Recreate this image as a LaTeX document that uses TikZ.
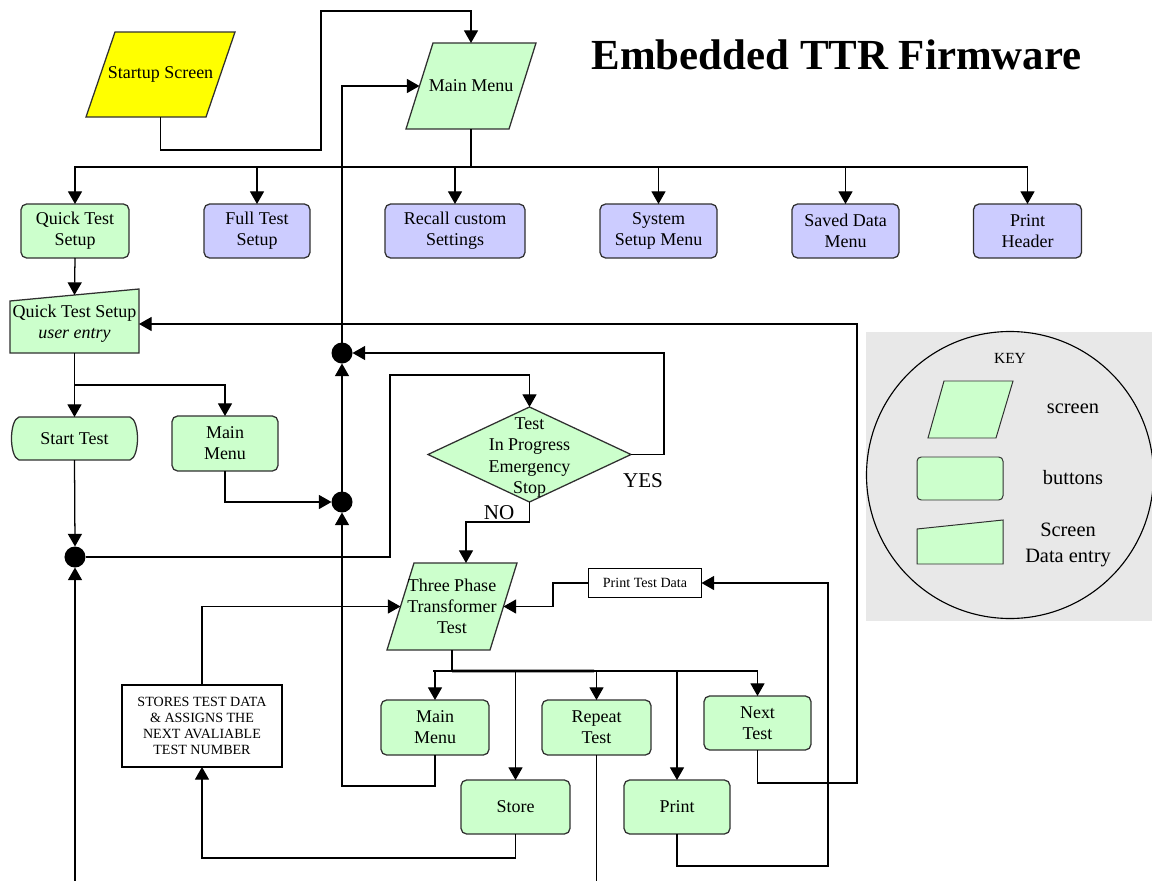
\documentclass[tikz,border=0pt]{standalone}
\usepackage{fontspec}
\setmainfont{Liberation Serif}
\usetikzlibrary{arrows.meta,calc,backgrounds}

\definecolor{btngreen}{HTML}{CCFFCC}
\definecolor{btnblue}{HTML}{CCCCFF}
\definecolor{startyellow}{HTML}{FFFF00}
\definecolor{keygray}{HTML}{E8E8E8}
\definecolor{edge}{HTML}{303030}

\tikzset{
  sz/.style 2 args={minimum width={#1*0.025cm},minimum height={#2*0.025cm}},
  lbl/.style={font=\fontsize{12.8}{15}\selectfont, align=center, inner sep=0pt, outer sep=0pt},
  button/.style={lbl, draw=edge, line width=0.9pt, rounded corners=4pt},
  gbtn/.style={button, fill=btngreen},
  bbtn/.style={button, fill=btnblue},
  outline/.style={draw=edge, line width=0.9pt},
  wire/.style={line width=0.9pt},
  arr/.style={wire, -{Triangle[width=10pt,length=9pt]}},
  junction/.style={circle, fill=black, inner sep=0pt, outer sep=0pt, minimum size=0.525cm},
  notebox/.style={draw=black, fill=white, line width=0.8pt, align=center, inner sep=0pt, outer sep=0pt},
  answer/.style={font=\fontsize{15}{17}\selectfont, inner sep=0pt},
  keytext/.style={font=\fontsize{14.5}{18.5}\selectfont, align=center, inner sep=0pt},
}

% parallelogram (screen) behind a text node: #1 node, #2 half slant (px), #3 fill
\newcommand\slantbox[3]{%
  \draw[outline, fill=#3] ($(#1.north west)+(#2,0)$) -- ($(#1.north east)+(#2,0)$)
    -- ($(#1.south east)+(-#2,0)$) -- ($(#1.south west)+(-#2,0)$) -- cycle;}

\begin{document}
\begin{tikzpicture}[x=0.025cm, y=-0.025cm]
\useasboundingbox (0,0) rectangle (1152,881);

% ---------- title ----------
\node[font=\fontsize{30.5}{36}\selectfont\bfseries, inner sep=0pt] (title) at (836.5,55) {Embedded TTR Firmware};

% ---------- screens ----------
\node[lbl, sz={120}{85}] (startup) at (160.5,74.5) {\raisebox{-2pt}{Startup Screen}};
\node[lbl, sz={103}{86}] (mm) at (471,86) {Main Menu};
\node[lbl, sz={103}{87}] (tp) at (452,606.5) {Three Phase\\Transformer\\Test};

% ---------- top row buttons ----------
\node[gbtn, sz={108}{54}] (qts) at (75,231) {Quick Test\\Setup};
\node[bbtn, sz={106}{54}] (fts) at (257,231) {Full Test\\Setup};
\node[bbtn, sz={140}{54}] (rcs) at (455,231) {Recall custom\\Settings};
\node[bbtn, sz={117}{54}] (ssm) at (658.5,231) {System\\Setup Menu};
\node[bbtn, sz={107}{54}] (sdm) at (845.5,231) {Saved Data\\Menu};
\node[bbtn, sz={108}{54}] (ph) at (1027.5,231) {Print\\Header};

% ---------- quick test ----------
\node[lbl, sz={129}{58}] (qtsue) at (74.5,324) {Quick Test Setup\\\textit{user entry}};
\node[lbl, sz={129}{43}] (st) at (74.5,438.5) {Start Test};
\node[gbtn, sz={106}{55}] (mml) at (225,443.5) {Main\\Menu};

% ---------- junctions ----------
\node[junction] (dotU) at (342,353) {};
\node[junction] (dotL) at (342,502) {};
\node[junction] (dotS) at (75,557) {};

% ---------- decision ----------
\node[lbl, sz={203}{95}] (dia) at (529.5,454.5) {};
\node[lbl, font=\fontsize{12.8}{15.3}\selectfont] (diatext) at (529.5,457.5)
  {Test\\In Progress\\Emergency\\Stop};
\node[answer] (yes) at (643,481) {YES};
\node[answer] (no) at (499,513) {NO};

% ---------- test screen buttons ----------
\node[gbtn, sz={108}{55}] (mmb) at (435,727.5) {Main\\Menu};
\node[gbtn, sz={109}{55}] (rt) at (596.5,727.5) {Repeat\\Test};
\node[gbtn, sz={107}{54}] (nt) at (757.5,723) {Next\\Test};
\node[gbtn, sz={109}{54}] (store) at (515.5,807) {Store};
\node[gbtn, sz={106}{54}] (print) at (677,807) {Print};

\node[notebox, sz={113}{29}, font=\fontsize{10}{12}\selectfont] (ptd) at (645,583) {Print Test Data};
\node[notebox, sz={160}{82}, font=\fontsize{10}{11.4}\selectfont] (sto) at (202,726)
  {STORES TEST DATA\\\& ASSIGNS THE\\NEXT AVALIABLE\\TEST NUMBER};

% ---------- shape outlines ----------
\begin{scope}[on background layer]
  \slantbox{startup}{14.5}{startyellow}
  \slantbox{mm}{13.5}{btngreen}
  \slantbox{tp}{13.5}{btngreen}
  % data entry screen
  \draw[outline, fill=btngreen] ($(qtsue.north west)+(0,6)$) -- ($(qtsue.north east)+(0,-6)$)
    -- (qtsue.south east) -- (qtsue.south west) -- cycle;
  % start terminator
  \draw[outline, fill=btngreen] ($(st.north west)+(9,0)$) -- ($(st.north east)+(-9,0)$)
    .. controls ($(st.north east)+(1,3)$) and ($(st.south east)+(1,-3)$) .. ($(st.south east)+(-9,0)$)
    -- ($(st.south west)+(9,0)$)
    .. controls ($(st.south west)+(-1,-3)$) and ($(st.north west)+(-1,3)$) .. cycle;
  % decision diamond
  \draw[outline, fill=btngreen] (dia.north) -- (dia.east) -- (dia.south) -- (dia.west) -- cycle;
\end{scope}

% ---------- connectors ----------
\draw[arr] (startup.south) -- (160.5,150) -- (321,150) -- (321,11) -| (mm.north);
\draw[wire] (mm.south) -- (471,167) coordinate (bus);
\draw[wire] (75,167) -- (1027.5,167);
\foreach \b in {qts,fts,rcs,ssm,sdm,ph} \draw[arr] (bus) -| (\b.north);

\draw[arr] (qts.south) -- (qtsue.north);
\draw[arr] (qtsue.south) -- (st.north);
\draw[arr] (qtsue.south) -- ++(0,32) -| (mml.north);

\draw[arr] (st.south) -- (dotS.north);
\coordinate (loopin) at (75,881);
\draw[arr] (loopin) -- (dotS.south);
\draw[arr] (dotS.east) -| (390,375) -| (dia.north);

\draw[arr] (mml.south) |- (dotL.west);
\draw[arr] (dotL.north) -- (dotU.south);
\draw[arr] (dotU.north) |- (mm.west);

\draw[arr] (dia.east) -| (664,353) -- (dotU.east);
\draw[arr] (dia.south) -- ++(0,20) -| ($(tp.north)+(14,0)$);

\draw[wire] (tp.south) -- ++(0,21) coordinate (bus2);
\draw[wire] (433,671) -- (757.5,671);
\draw[line width=1.8pt] (bus2) -- (594,671);
\foreach \b in {mmb,rt,nt,store,print} \draw[arr] (bus2) -| (\b.north);

\draw[arr] (ptd.west) -- (553,583) |- (tp.east);
\draw[arr] (sto.north) |- (tp.west);
\draw[arr] (store.south) -- ++(0,24) -| (sto.south);
\draw[arr] (mmb.south) |- (342,786) -- (dotL.south);
\coordinate (rtout) at (596.5,881);
\draw[wire] (rt.south) -- (rtout);
\draw[arr] (print.south) |- (828,866) |- (ptd.east);
\draw[arr] (nt.south) |- (857,783) |- (qtsue.east);

% ---------- key ----------
\fill[keygray] (866,332) rectangle (1152,621);
\draw[line width=0.8pt] (1010,475) circle[radius=143.5];
\node[font=\fontsize{11}{13}\selectfont, inner sep=0pt] (keyhead) at (1010,358) {KEY};
\draw[outline, line width=0.7pt, fill=btngreen] (944,381) -- (1013,381) -- (996,438) -- (928,438) -- cycle;
\draw[outline, line width=0.7pt, fill=btngreen, rounded corners=3pt] (917,457) rectangle (1003,500);
\draw[outline, line width=0.7pt, fill=btngreen] (917,529) -- (1003,520) -- (1003,564) -- (917,564) -- cycle;
\node[keytext] (keyscreen) at (1073,409) {screen};
\node[keytext] (keybutton) at (1073,478) {buttons};
\node[keytext] (keyentry) at (1068,545) {Screen\\Data entry};
\end{tikzpicture}
\end{document}
